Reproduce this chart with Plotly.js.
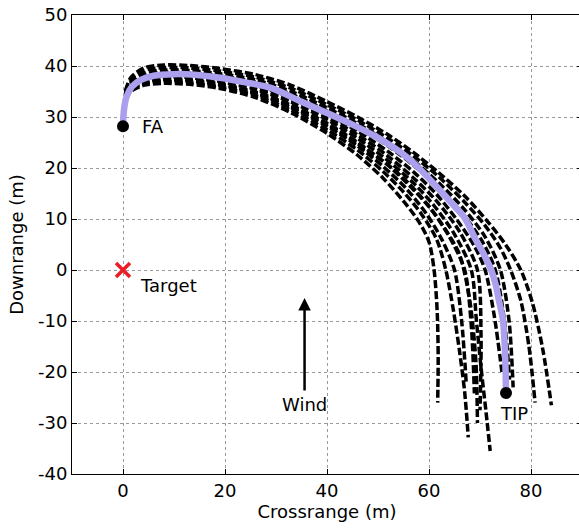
<!DOCTYPE html>
<html>
<head>
<meta charset="utf-8">
<script src="https://cdn.plot.ly/plotly-3.0.1.min.js"></script>
<style>html,body{margin:0;padding:0;overflow:hidden;background:#fff;}</style>
</head>
<body>
<div id="chart"></div>
<script>
// Nominal trajectory (purple)
const nominalX = [0, 0.2, 0.7, 1.8, 3.5, 6, 10, 14, 19, 24, 29, 35, 40, 45, 50, 54.5, 58, 62, 65, 67, 69.2, 70.8, 72.2, 73.1, 73.7, 74.5, 74.9, 75.1];
const nominalY = [28.5, 31.5, 34, 36, 37.3, 38.1, 38.4, 38.3, 37.7, 36.8, 35.7, 33, 30.8, 28.5, 25.9, 23, 20, 15.8, 12.5, 10.2, 5.9, 3, 0, -3, -5.9, -9.8, -16, -24];

// Dispersed trajectories (black dashed)
const runAx = [0.5, 1.5, 4, 8, 13, 19, 26, 33, 40, 46, 51, 55, 58, 60, 61, 61.6, 61.8, 61.7];
const runAy = [33.5, 35, 36.2, 36.6, 36.4, 35.6, 33.8, 30.8, 26.8, 22.5, 18, 13.5, 9.5, 5.5, 0, -8, -17, -26];
const runBx = [0.5, 1.5, 4, 8, 13, 19, 26, 33, 40, 46, 51, 55, 58.5, 61.5, 63.3, 64.8, 66, 67, 67.7];
const runBy = [33.8, 35.3, 36.5, 36.9, 36.7, 35.9, 34.2, 31.3, 27.5, 23.5, 19.3, 15.3, 11, 6, 0, -8, -16, -24, -32.8];
const runCx = [0.5, 1.5, 4, 8, 13, 19, 26, 33, 40, 46, 51, 55.5, 59.5, 62.5, 65, 66.4, 67.3];
const runCy = [34, 35.6, 36.8, 37.2, 37, 36.2, 34.5, 31.8, 28.2, 24.3, 20.3, 16, 11, 6, 0, -10, -22.2];
const runDx = [0.5, 1.5, 4, 8, 13, 19, 26, 33, 40, 46, 52, 56.5, 60.5, 64, 67, 68.3, 68.9];
const runDy = [34.2, 35.8, 37.1, 37.5, 37.3, 36.5, 34.9, 32.3, 28.8, 25, 20.5, 16.2, 11.8, 6.5, 0, -11, -24.2];
const runEx = [0.5, 1.5, 4, 8, 13, 19, 26, 33, 40, 46, 52, 57, 61, 65, 68.3, 69.3, 70.3, 71.2, 72];
const runEy = [34.3, 36, 37.4, 37.9, 37.7, 36.9, 35.4, 32.9, 29.5, 25.8, 21.4, 17, 12.6, 7, 0, -10, -20, -28, -35.5];
const runFx = [0.5, 1.5, 4, 8, 13, 19, 26, 33, 40, 46, 52, 57, 61.5, 66, 69.5, 70.2, 70];
const runFy = [34.4, 36.1, 37.5, 38, 37.8, 37.1, 35.7, 33.3, 30, 26.5, 22.3, 18, 13.5, 7.5, 0, -13, -27.5];
const runGx = [0.5, 1.5, 4, 8, 13, 19, 26, 33, 40, 46, 52, 56, 60, 63.5, 66, 68, 69.2, 69.5];
const runGy = [34.1, 35.7, 37, 37.4, 37.2, 36.4, 34.7, 32, 28.5, 24.7, 20.6, 17, 12.5, 7.5, 3, -6, -18, -30];
const runHx = [0.5, 1.5, 4, 8, 13, 19, 26, 33, 40, 46, 52, 57, 62, 67, 70.5, 73, 74.8, 75.8];
const runHy = [34.6, 36.6, 38.2, 38.8, 38.7, 38.1, 36.8, 34.5, 31.2, 28, 24.3, 20.5, 16, 10.5, 5.5, 0, -10, -21.5];
const runIx = [0.5, 1.5, 4, 8, 13, 19, 26, 33, 40, 46, 52, 57, 62, 67, 71, 74, 75.7, 76.5];
const runIy = [34.8, 36.9, 38.6, 39.2, 39.1, 38.5, 37.3, 35, 31.8, 28.7, 25, 21.4, 17, 11.8, 6.5, 0, -10, -23];
const runJx = [0.5, 1.5, 4, 8, 13, 19, 26, 33, 40, 46, 52, 57, 62, 67, 71, 74, 76, 78, 79.6, 80.8];
const runJy = [35, 37.3, 39.1, 39.7, 39.6, 39, 37.8, 35.6, 32.4, 29.4, 25.8, 22.3, 18.2, 13.3, 8.7, 4.3, 0, -6, -15, -26];
const runKx = [0.5, 1.5, 4, 8, 13, 19, 26, 33, 40, 46, 52, 57, 62, 67, 71.5, 75, 78, 80.3, 82.3, 84];
const runKy = [35.2, 37.7, 39.6, 40.2, 40.1, 39.5, 38.3, 36.2, 33, 30, 26.5, 23, 19, 14.5, 9.5, 5, 0, -6.5, -15.5, -26.5];
const runLx = [0.5, 1.5, 4, 8, 13, 19, 26, 33, 40, 46, 52, 57, 61.5, 65.5, 69, 71, 72.8, 74.3];
const runLy = [34.5, 36.3, 37.8, 38.3, 38.2, 37.5, 36.2, 33.8, 30.5, 27.2, 23.2, 19.2, 14.8, 9.8, 4.5, 0, -9, -20];

const runsX = [runAx, runBx, runCx, runDx, runEx, runFx, runGx, runHx, runIx, runJx, runKx, runLx];
const runsY = [runAy, runBy, runCy, runDy, runEy, runFy, runGy, runHy, runIy, runJy, runKy, runLy];

// Points and labels
const faPoint = [0, 28.2];
const tipPoint = [75.1, -24.1];
const targetPoint = [0, 0];
const windTail = [35.6, -23.9];
const windHead = [35.6, -5.5];

const xTicks = [0, 20, 40, 60, 80];
const yTicks = [-40, -30, -20, -10, 0, 10, 20, 30, 40, 50];

const traces = [];
runsX.forEach((rx, i) => {
  traces.push({
    x: rx, y: runsY[i], type: 'scatter', mode: 'lines',
    line: {color: 'black', width: 3.5, dash: '8px,3px', shape: 'spline', smoothing: 0.8},
    hoverinfo: 'skip', showlegend: false
  });
});
traces.push({
  x: nominalX, y: nominalY, type: 'scatter', mode: 'lines',
  line: {color: 'rgb(170,160,238)', width: 6.5, shape: 'spline', smoothing: 0.8},
  showlegend: false
});
traces.push({
  x: [faPoint[0], tipPoint[0]], y: [faPoint[1], tipPoint[1]], type: 'scatter', mode: 'markers',
  marker: {color: 'black', size: 12}, showlegend: false
});
traces.push({
  x: [targetPoint[0]], y: [targetPoint[1]], type: 'scatter', mode: 'markers',
  marker: {color: 'rgb(235,30,40)', size: 14, symbol: 'x-thin', line: {width: 3.5, color: 'rgb(235,30,40)'}},
  showlegend: false
});

const fnt = {family: '"DejaVu Sans", Arial, sans-serif', size: 18, color: 'black'};

const layout = {
  width: 582, height: 530,
  margin: {l: 72, r: 0, t: 15, b: 56},
  paper_bgcolor: 'white', plot_bgcolor: 'white',
  font: fnt,
  xaxis: {
    range: [-10, 90], tickvals: xTicks, ticktext: xTicks.map(String),
    showgrid: true, gridcolor: '#9a9a9a', griddash: 'dot', gridwidth: 1,
    zeroline: false, showline: true, linecolor: 'black', linewidth: 1,
    mirror: 'ticks', ticks: 'inside', ticklen: 5, tickcolor: 'black',
    tickfont: fnt,
    title: {text: 'Crossrange (m)', font: fnt, standoff: 4}
  },
  yaxis: {
    range: [-40, 50], tickvals: yTicks, ticktext: yTicks.map(String),
    showgrid: true, gridcolor: '#9a9a9a', griddash: 'dot', gridwidth: 1,
    zeroline: false, showline: true, linecolor: 'black', linewidth: 1,
    mirror: 'ticks', ticks: 'inside', ticklen: 5, tickcolor: 'black',
    tickfont: fnt,
    title: {text: 'Downrange (m)', font: fnt, standoff: 9}
  },
  annotations: [
    {x: faPoint[0] + 3.3, y: faPoint[1], text: 'FA', showarrow: false, xanchor: 'left', yanchor: 'middle', font: fnt},
    {x: targetPoint[0] + 3, y: targetPoint[1] - 3, text: 'Target', showarrow: false, xanchor: 'left', yanchor: 'middle', font: fnt},
    {x: tipPoint[0] + 1.5, y: tipPoint[1] - 4, text: 'TIP', showarrow: false, xanchor: 'center', yanchor: 'middle', font: fnt},
    {x: windTail[0], y: windTail[1] - 2.4, text: 'Wind', showarrow: false, xanchor: 'center', yanchor: 'middle', font: fnt},
    {x: windHead[0], y: windHead[1], ax: windTail[0], ay: windTail[1], axref: 'x', ayref: 'y', xref: 'x', yref: 'y',
     text: '', showarrow: true, arrowhead: 2, arrowsize: 1, arrowwidth: 2.5, arrowcolor: 'black'}
  ]
};

Plotly.newPlot('chart', traces, layout, {displayModeBar: false, staticPlot: true});
</script>
</body>
</html>
